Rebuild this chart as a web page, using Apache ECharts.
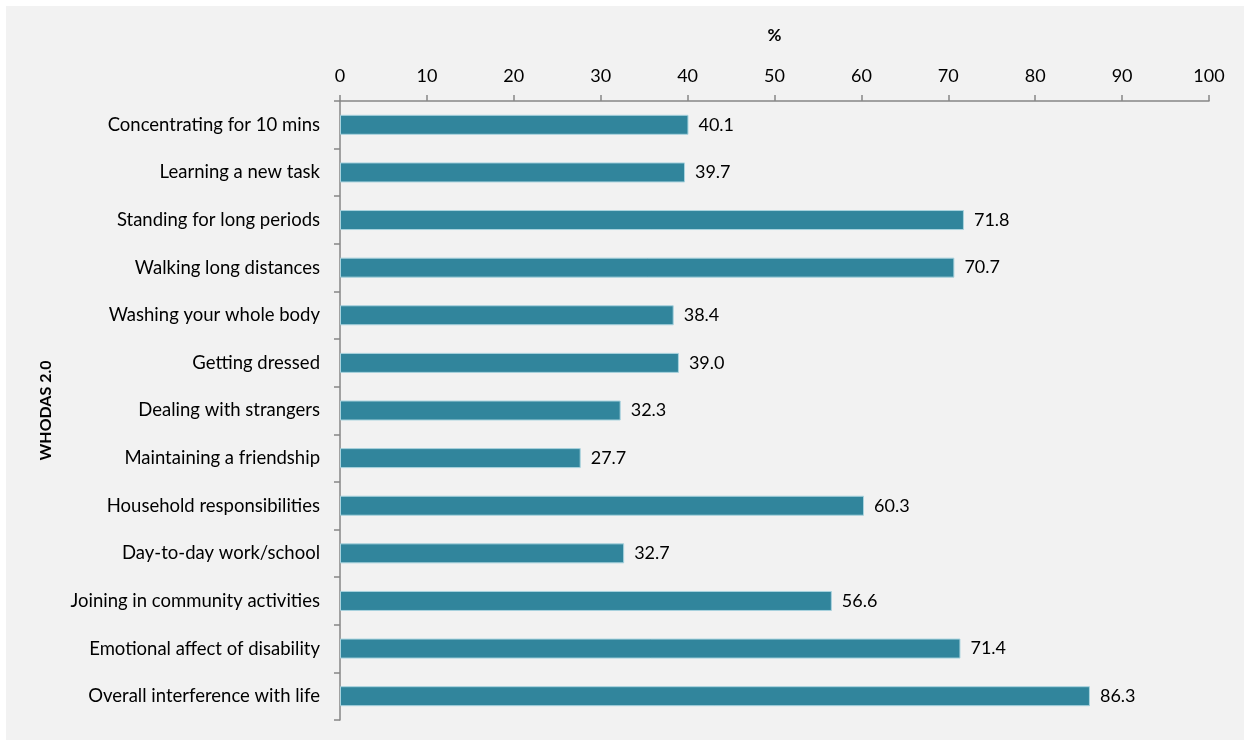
<!DOCTYPE html>
<html>
<head>
<meta charset="utf-8">
<script src="https://cdn.jsdelivr.net/npm/echarts@6/dist/echarts.min.js"></script>
<style>
html,body{margin:0;padding:0;background:#fff;}
#c{width:1244px;height:740px;}
</style>
</head>
<body>
<div id="c"></div>
<script>
var categories = [
  "Concentrating for 10 mins",
  "Learning a new task",
  "Standing for long periods",
  "Walking long distances",
  "Washing your whole body",
  "Getting dressed",
  "Dealing with strangers",
  "Maintaining a friendship",
  "Household responsibilities",
  "Day-to-day work/school",
  "Joining in community activities",
  "Emotional affect of disability",
  "Overall interference with life"
];
var values = [40.1, 39.7, 71.8, 70.7, 38.4, 39.0, 32.3, 27.7, 60.3, 32.7, 56.6, 71.4, 86.3];
var xAxisName = "%";
var yAxisName = "WHODAS 2.0";

var FONT = "Lato, 'Open Sans', sans-serif";
var chart = echarts.init(document.getElementById('c'));
chart.setOption({
  backgroundColor: '#ffffff',
  animation: false,
  graphic: [{
    type: 'rect', z: -10, silent: true,
    shape: {x: 6, y: 6, width: 1238, height: 734},
    style: {fill: '#f2f2f2'}
  }],
  grid: {left: 340, top: 101, right: 35, bottom: 20, containLabel: false},
  xAxis: {
    type: 'value', position: 'top', min: 0, max: 100, interval: 10,
    name: xAxisName, nameLocation: 'middle', nameGap: 57,
    nameTextStyle: {fontFamily: FONT, fontSize: 17, fontWeight: 'bold', color: '#000'},
    axisLine: {show: true, lineStyle: {color: '#868686', width: 1.5}},
    axisTick: {show: true, length: 6, lineStyle: {color: '#868686', width: 1.5}},
    axisLabel: {fontFamily: FONT, fontSize: 18, color: '#000', margin: 16},
    splitLine: {show: false}
  },
  yAxis: {
    type: 'category', data: categories, inverse: true,
    name: yAxisName, nameLocation: 'middle', nameGap: 286, nameRotate: 90,
    nameTextStyle: {fontFamily: FONT, fontSize: 16, fontWeight: 'bold', color: '#000'},
    axisLine: {show: true, lineStyle: {color: '#868686', width: 1.5}},
    axisTick: {show: true, length: 6, alignWithLabel: false, lineStyle: {color: '#868686', width: 1.5}},
    axisLabel: {fontFamily: FONT, fontSize: 18.5, color: '#000', margin: 20}
  },
  series: [{
    type: 'bar', data: values, barWidth: 20,
    itemStyle: {color: '#31859c', borderColor: '#a9d3de', borderWidth: 1},
    label: {show: true, position: 'right', distance: 10, fontFamily: FONT, fontSize: 18, color: '#000',
      formatter: function(p){ return p.value.toFixed(1); }}
  }]
});
</script>
</body>
</html>
